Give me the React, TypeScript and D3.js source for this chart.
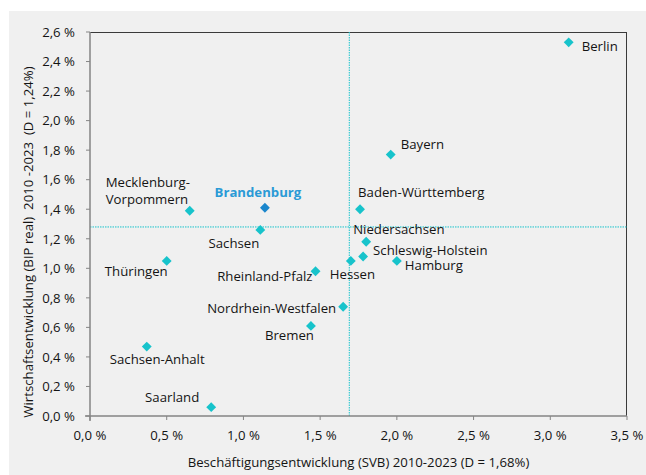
import React from "react";
import * as d3 from "d3";

const states = [
  "Berlin", "Bayern", "Baden-Württemberg", "Niedersachsen", "Schleswig-Holstein",
  "Hessen", "Hamburg", "Nordrhein-Westfalen", "Bremen", "Rheinland-Pfalz",
  "Thüringen", "Sachsen-Anhalt", "Saarland", "Mecklenburg-Vorpommern", "Brandenburg", "Sachsen",
];
const employment = [3.12, 1.96, 1.76, 1.80, 1.78, 1.70, 2.00, 1.65, 1.44, 1.47, 0.50, 0.37, 0.79, 0.65, 1.14, 1.11];
const gdp = [2.53, 1.77, 1.40, 1.18, 1.08, 1.05, 1.05, 0.74, 0.61, 0.98, 1.05, 0.47, 0.06, 1.39, 1.41, 1.26];
const highlight = "Brandenburg";
const avgEmployment = 1.69;
const avgGdp = 1.28;
const xTicks = [0, 0.5, 1, 1.5, 2, 2.5, 3, 3.5];
const yTicks = [0, 0.2, 0.4, 0.6, 0.8, 1.0, 1.2, 1.4, 1.6, 1.8, 2.0, 2.2, 2.4, 2.6];
const xTitle = "Beschäftigungsentwicklung (SVB) 2010-2023 (D = 1,68%)";
const yTitle = "Wirtschaftsentwicklung (BIP real)  2010 -2023  (D = 1,24%)";

// label layout: offset from marker and anchor
const labelLayout: Record<string, { dx: number; dy: number; anchor: string; lines?: string[] }> = {
  "Berlin": { dx: 13, dy: 9, anchor: "start" },
  "Bayern": { dx: 10, dy: -6, anchor: "start" },
  "Baden-Württemberg": { dx: -2, dy: -12, anchor: "start" },
  "Niedersachsen": { dx: -13, dy: -8, anchor: "start" },
  "Schleswig-Holstein": { dx: 10, dy: -1, anchor: "start" },
  "Hessen": { dx: -21, dy: 18, anchor: "start" },
  "Hamburg": { dx: 8, dy: 9.5, anchor: "start" },
  "Nordrhein-Westfalen": { dx: -7, dy: 6, anchor: "end" },
  "Bremen": { dx: 3, dy: 14, anchor: "end" },
  "Rheinland-Pfalz": { dx: -3, dy: 10, anchor: "end" },
  "Thüringen": { dx: 1, dy: 15, anchor: "end" },
  "Sachsen-Anhalt": { dx: -37, dy: 17, anchor: "start" },
  "Saarland": { dx: -12, dy: -5, anchor: "end" },
  "Mecklenburg-Vorpommern": { dx: -84, dy: -24, anchor: "start", lines: ["Mecklenburg-", "Vorpommern"] },
  "Brandenburg": { dx: -7, dy: -11, anchor: "middle" },
  "Sachsen": { dx: -1, dy: 18, anchor: "end" },
};

const W = 646, H = 475;
const left = 90, right = 627, top = 32, bottom = 416;
const font = "'Open Sans', sans-serif";
const fs = 13.2;
const cyan = "#17c3cb";
const dark = "#1a86cc";
const labelBlue = "#2a9ad6";
const textColor = "#141414";

const fmt = (v: number) => d3.format(".1f")(v).replace(".", ",") + "\u00a0%";

export default function App() {
  const x = d3.scaleLinear().domain([0, 3.5]).range([left, right]);
  const y = d3.scaleLinear().domain([0, 2.6]).range([bottom, top]);
  const diamond = d3.symbol().type(d3.symbolDiamond2).size(62)() as string;

  return (
    <svg width={W} height={H} style={{ position: "absolute", left: 0, top: 0, display: "block" }}
      fontFamily={font}>
      <rect x={0} y={0} width={W} height={H} fill="#ffffff" />
      <rect x={9} y={11} width={W - 9} height={H - 11} fill="#f0f0f0" />

      {/* border top/right */}
      <line x1={left} x2={right} y1={top + 0.5} y2={top + 0.5} stroke="#3a3a3a" strokeWidth={1} />
      <line x1={right - 0.5} x2={right - 0.5} y1={top} y2={bottom} stroke="#3a3a3a" strokeWidth={1} />

      {/* reference lines */}
      <line x1={left} x2={right} y1={y(avgGdp)} y2={y(avgGdp)} stroke={cyan} strokeWidth={1} strokeDasharray="1.5,1" />
      <line x1={x(avgEmployment)} x2={x(avgEmployment)} y1={top} y2={bottom} stroke={cyan} strokeWidth={1} strokeDasharray="1.5,1" />

      {/* axes */}
      <line x1={left} x2={left} y1={top} y2={bottom + 5} stroke="#858585" strokeWidth={1.5} />
      <line x1={left - 5} x2={right} y1={bottom} y2={bottom} stroke="#858585" strokeWidth={1.5} />
      {yTicks.map((t) => (
        <g key={"y" + t}>
          <line x1={left - 4} x2={left} y1={y(t)} y2={y(t)} stroke="#858585" strokeWidth={1} />
          <text x={75} y={y(t)} dy="0.36em" textAnchor="end" fontSize={fs} fill={textColor}>{fmt(t)}</text>
        </g>
      ))}
      {xTicks.map((t) => (
        <g key={"x" + t}>
          <line x1={x(t)} x2={x(t)} y1={bottom} y2={bottom + 4} stroke="#858585" strokeWidth={1} />
          <text x={x(t)} y={440} textAnchor="middle" fontSize={fs} fill={textColor}>{fmt(t)}</text>
        </g>
      ))}

      {/* titles */}
      <text x={(left + right) / 2} y={467} textAnchor="middle" fontSize={fs} fill={textColor}>{xTitle}</text>
      <text transform="translate(33,242) rotate(-90)" textAnchor="middle" fontSize={fs} fill={textColor}
        style={{ whiteSpace: "pre" }}>{yTitle}</text>

      {/* points */}
      {states.map((s, i) => (
        <path key={s} d={diamond} transform={`translate(${x(employment[i])},${y(gdp[i])})`}
          fill={s === highlight ? dark : cyan} />
      ))}

      {/* labels */}
      {states.map((s, i) => {
        const L = labelLayout[s];
        const px = x(employment[i]) + L.dx;
        const py = y(gdp[i]) + L.dy;
        const isH = s === highlight;
        const lines = L.lines || [s];
        return (
          <text key={"l" + s} x={px} y={py} textAnchor={L.anchor} fontSize={fs}
            fontWeight={isH ? 700 : 400} fill={isH ? labelBlue : textColor}>
            {lines.map((ln, k) => (
              <tspan key={k} x={px} dy={k === 0 ? 0 : 17.5}>{ln}</tspan>
            ))}
          </text>
        );
      })}
    </svg>
  );
}
